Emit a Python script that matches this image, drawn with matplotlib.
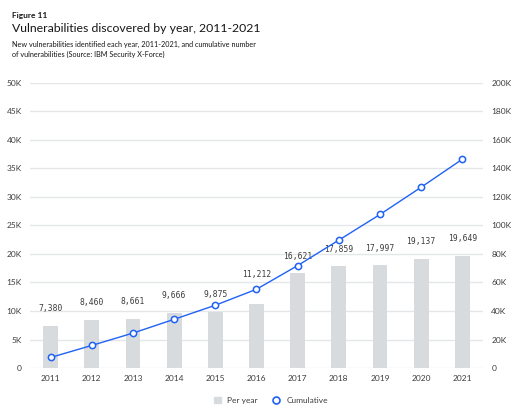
import matplotlib
matplotlib.use("Agg")
import matplotlib.pyplot as plt
from matplotlib.lines import Line2D
from matplotlib.patches import Patch
from matplotlib.ticker import FuncFormatter
import numpy as np

years = ["2011", "2012", "2013", "2014", "2015", "2016", "2017", "2018", "2019", "2020", "2021"]
per_year = [7380, 8460, 8661, 9666, 9875, 11212, 16621, 17859, 17997, 19137, 19649]
cumulative = [7380, 15840, 24501, 34167, 44042, 55254, 71875, 89734, 107731, 126868, 146517]

BAR, LINE, GRID, TXT = "#d8dbde", "#1f62f5", "#e4e6e9", "#3d3d3d"
plt.rcParams["font.family"] = ["Lato", "DejaVu Sans"]

# labels that would sit on the cumulative line get pushed up a bit
LABEL_NUDGE = {"2016": 9}

fig = plt.figure(figsize=(5.31, 4.17), dpi=100)
ax = fig.add_axes([0.0565, 0.1175, 0.853, 0.6835])
ax2 = ax.twinx()

x = np.arange(len(years))
ax.bar(x, per_year, width=0.36, color=BAR, zorder=2)
for xi, yr, v in zip(x, years, per_year):
    ax.annotate(f"{v:,}", (xi, v), xytext=(0, 9 + LABEL_NUDGE.get(yr, 0)),
                textcoords="offset points", ha="center", va="bottom",
                fontsize=5.8, color=TXT, family="DejaVu Sans Mono")

ax2.plot(x, cumulative, color=LINE, lw=1, marker="o", ms=4.5,
         mfc="white", mec=LINE, mew=1.1, zorder=3)

ax.set_xlim(-0.5, len(years) - 0.5)
ax.set_ylim(0, 50000)
ax2.set_ylim(0, 200000)
ax.set_yticks(np.arange(0, 50001, 5000))
ax2.set_yticks(np.arange(0, 200001, 20000))
kfmt = FuncFormatter(lambda v, _: "0" if v == 0 else f"{int(v/1000)}K")
ax.yaxis.set_major_formatter(kfmt)
ax2.yaxis.set_major_formatter(kfmt)
ax.set_xticks(x)
ax.set_xticklabels(years)
ax.grid(axis="y", color=GRID, lw=1, zorder=0)
ax.set_axisbelow(True)
for a in (ax, ax2):
    for s in a.spines.values():
        s.set_visible(False)
    a.tick_params(length=0, labelsize=6, labelcolor=TXT)
ax.tick_params(axis="x", pad=5)
ax.tick_params(axis="y", pad=6)
ax2.tick_params(axis="y", pad=6)

fig.text(0.0226, 0.962, "Figure 11", fontsize=6, fontweight="bold", color="#161616", va="center")
fig.text(0.0226, 0.931, "Vulnerabilities discovered by year, 2011-2021", fontsize=8.8,
         color="#161616", va="center")
fig.text(0.0226, 0.893, "New vulnerabilities identified each year, 2011-2021, and cumulative number",
         fontsize=5.2, color="#161616", va="center")
fig.text(0.0226, 0.869, "of vulnerabilities (Source: IBM Security X-Force)",
         fontsize=5.2, color="#161616", va="center")

handles = [Patch(color=BAR, label="Per year"),
           Line2D([], [], ls="none", marker="o", ms=5, mfc="white", mec=LINE, mew=1.2,
                  label="Cumulative")]
fig.legend(handles=handles, loc="center", bbox_to_anchor=(0.51, 0.04), ncol=2,
           frameon=False, fontsize=6, handlelength=0.8, handleheight=0.8,
           columnspacing=1.8, handletextpad=0.8, labelcolor=TXT)

fig.savefig("out.png", dpi=100)
